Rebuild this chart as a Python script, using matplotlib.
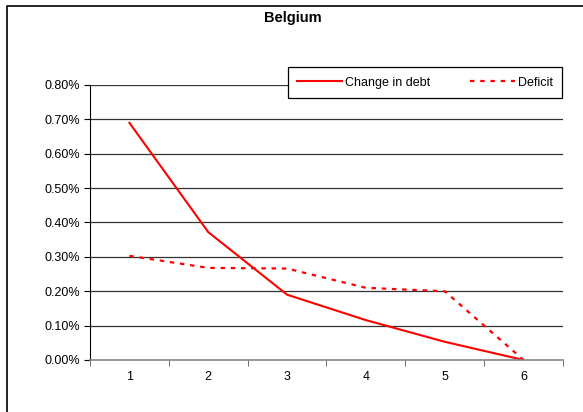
import matplotlib
matplotlib.use("Agg")
import matplotlib.pyplot as plt
from matplotlib.lines import Line2D
from matplotlib.ticker import PercentFormatter, FixedLocator

plt.rcParams["font.family"] = ["Liberation Sans", "DejaVu Sans"]

periods = [1, 2, 3, 4, 5, 6]
change_in_debt = [0.69, 0.372, 0.19, 0.116, 0.053, 0.0]
deficit = [0.303, 0.268, 0.266, 0.21, 0.20, 0.0]
y_ticks = [0.0, 0.1, 0.2, 0.3, 0.4, 0.5, 0.6, 0.7, 0.8]

W, H = 583, 412
fig = plt.figure(figsize=(W / 100, H / 100), dpi=100)

# chart-area border: only top and left edges are visible in the reference
fig.lines.append(Line2D([6.5 / W, 6.5 / W, 1.0], [0.0, 1 - 5.5 / H, 1 - 5.5 / H],
                        transform=fig.transFigure, color="black", lw=1.2))

ax = fig.add_axes([90 / W, 1 - 360 / H, (563 - 90) / W, (360 - 85) / H])

ax.plot(periods, change_in_debt, color="red", lw=1.5, label="Change in debt")
ax.plot(periods, deficit, color="red", lw=1.6, linestyle=(0, (2, 2.6)),
        label="Deficit")

ax.set_xlim(0.5, 6.5)
ax.set_ylim(0, 0.8)
ax.set_yticks(y_ticks)
ax.yaxis.set_major_formatter(PercentFormatter(decimals=2))
ax.grid(axis="y", color="#333333", lw=0.9)
ax.set_axisbelow(True)

ax.set_xticks(periods)
ax.xaxis.set_minor_locator(FixedLocator([0.5 + i for i in range(7)]))
ax.tick_params(axis="x", which="major", length=0, pad=8, labelsize=9)
ax.tick_params(axis="x", which="minor", length=4, direction="out", color="#555555")
ax.tick_params(axis="y", length=4, direction="out", labelsize=9, pad=3)

for s in ["top", "right"]:
    ax.spines[s].set_visible(False)
ax.spines["left"].set_color("black")
ax.spines["bottom"].set_color("#888888")
ax.spines["bottom"].set_linewidth(1.2)

fig.text(293 / W, 1 - 18 / H, "Belgium", ha="center", va="center",
         fontsize=10.5, fontweight="bold")

leg = ax.legend(loc="lower left", ncol=2, mode="expand",
                bbox_to_anchor=(288 / W, 1 - 98 / H, (562 - 288) / W, 30 / H),
                bbox_transform=fig.transFigure, fontsize=9, frameon=True,
                fancybox=False, edgecolor="black", framealpha=1,
                handlelength=3.6, handletextpad=0.2, borderpad=0.75,
                borderaxespad=0, columnspacing=1.0)
leg.get_frame().set_linewidth(0.9)

fig.savefig("out.png", dpi=100)
